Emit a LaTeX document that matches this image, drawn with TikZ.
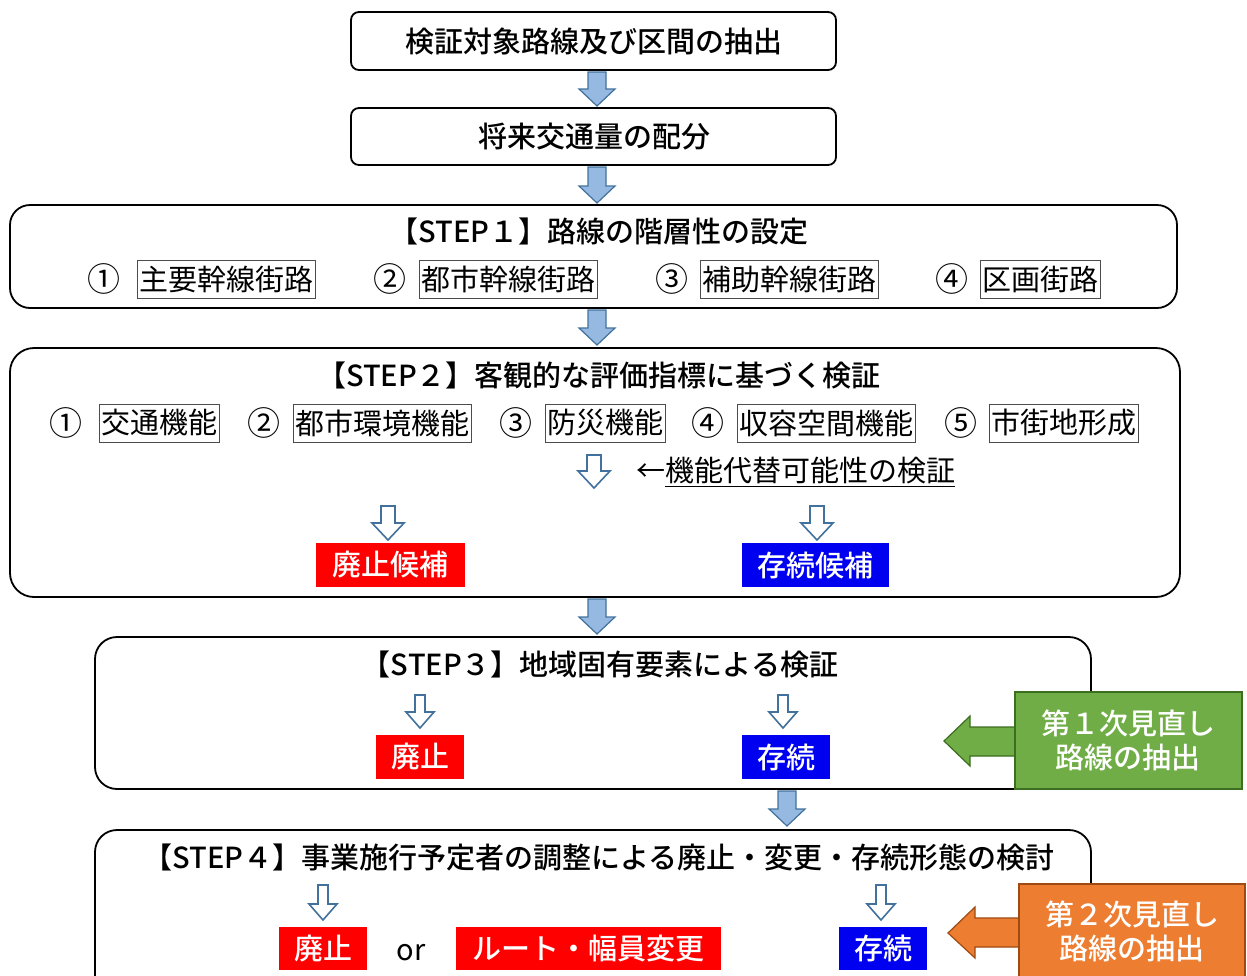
\documentclass[tikz,border=0pt]{standalone}
\usepackage{fontspec}
\setmainfont{Noto Sans CJK JP}[BoldFont={Noto Sans CJK JP Medium}]
\usetikzlibrary{calc}
\definecolor{arrfill}{HTML}{95B9E1}
\definecolor{arrline}{HTML}{41719C}
\definecolor{grn}{HTML}{70AD47}
\definecolor{grnline}{HTML}{3C6E1F}
\definecolor{org}{HTML}{ED7D31}
\definecolor{orgline}{HTML}{9E4A12}
\definecolor{rd}{HTML}{FF0000}
\definecolor{bl}{HTML}{0000F0}
\newcommand\fatdown[3]{%
  \draw[fatarrow] (#1-9,#2) -- (#1+9,#2) -- (#1+9,#3-17) -- (#1+18,#3-17) -- (#1,#3) -- (#1-18,#3-17) -- (#1-9,#3-17) -- cycle;}
\newcommand\thindown[6]{% x ytop ybot shafthalf headhalf headlen
  \draw[thinarrow] (#1-#4,#2) -- (#1+#4,#2) -- (#1+#4,#3-#6) -- (#1+#5,#3-#6) -- (#1,#3) -- (#1-#5,#3-#6) -- (#1-#4,#3-#6) -- cycle;}
\begin{document}
\begin{tikzpicture}[x=1pt,y=-1pt,
  fatarrow/.style={fill=arrfill,draw=arrline,line width=1.2pt,line join=miter},
  thinarrow/.style={fill=white,draw=arrline,line width=1.6pt,line join=miter},
  bigbox/.style={draw=black,line width=1.8pt,fill=white,rounded corners=#1,inner sep=0pt},
  ttl/.style={font=\fontsize{29}{29}\selectfont\bfseries,inner sep=0pt},
  num/.style={font=\fontsize{33}{33}\selectfont,inner sep=0pt},
  item/.style={draw=black!70,line width=1pt,font=\fontsize{29}{29}\selectfont,inner xsep=2pt,inner ysep=0pt,minimum height=38,fill=white},
  lab/.style={font=\fontsize{29}{29}\selectfont\bfseries,text=white,inner sep=0pt,minimum height=44},
  side/.style={font=\fontsize{29}{34}\selectfont\bfseries,text=white,align=center,inner sep=0pt},
]
\useasboundingbox (0,0) rectangle (1247,975);
% top boxes
\node[bigbox=8,minimum width=485,minimum height=58] (b1) at (593.5,41) {};
\node[ttl] (t1) at (594,41) {検証対象路線及び区間の抽出};
\node[bigbox=8,minimum width=485,minimum height=57] (b2) at (593.5,136.5) {};
\node[ttl] (t2) at (594,137) {将来交通量の配分};
% STEP1
\node[bigbox=20,minimum width=1167,minimum height=103] (s1) at (593.5,256.5) {};
\node[ttl] (s1t) at (599,232) {【STEP１】路線の階層性の設定};
\node[num] (s1n1) at (104,279) {①};
\node[item] (s1i1) at (226.5,279) {主要幹線街路};
\node[num] (s1n2) at (390,279) {②};
\node[item] (s1i2) at (508,279) {都市幹線街路};
\node[num] (s1n3) at (672,279) {③};
\node[item] (s1i3) at (789,279) {補助幹線街路};
\node[num] (s1n4) at (952,279) {④};
\node[item] (s1i4) at (1040,279) {区画街路};
% STEP2
\node[bigbox=24,minimum width=1170,minimum height=249] (s2) at (595,472.5) {};
\node[ttl] (s2t) at (599,375) {【STEP２】客観的な評価指標に基づく検証};
\node[num] (s2n1) at (66,423) {①};
\node[item] (s2i1) at (159.5,423) {交通機能};
\node[num] (s2n2) at (264,423) {②};
\node[item] (s2i2) at (382.5,423) {都市環境機能};
\node[num] (s2n3) at (516,423) {③};
\node[item] (s2i3) at (605,423) {防災機能};
\node[num] (s2n4) at (708,423) {④};
\node[item] (s2i4) at (826.5,423) {収容空間機能};
\node[num] (s2n5) at (961,423) {⑤};
\node[item] (s2i5) at (1064,423) {市街地形成};
\node[inner sep=0pt,font=\fontsize{29}{29}\selectfont,anchor=west] (alt) at (636,472) {←\underline{機能代替可能性の検証}};
\node[lab,fill=rd,minimum width=149] (c1) at (390.5,565) {廃止候補};
\node[lab,fill=bl,minimum width=147] (c2) at (815.5,565) {存続候補};
% STEP3
\node[bigbox=22,minimum width=996,minimum height=152] (s3) at (593,713) {};
\node[ttl] (s3t) at (600,664) {【STEP３】地域固有要素による検証};
\node[lab,fill=rd,minimum width=88] (d1) at (420,757) {廃止};
\node[lab,fill=bl,minimum width=88] (d2) at (786,757) {存続};
% STEP4
\node[bigbox=22,minimum width=996,minimum height=170] (s4) at (593,915) {};
\node[ttl] (s4t) at (599,857) {【STEP４】事業施行予定者の調整による廃止・変更・存続形態の検討};
\node[lab,fill=rd,minimum width=88,minimum height=43] (e1) at (323,948.5) {廃止};
\node[inner sep=0pt,font=\fontsize{29}{29}\selectfont] (or) at (411,953) {or};
\node[lab,fill=rd,minimum width=265,minimum height=43] (e2) at (588.5,948.5) {ルート・幅員変更};
\node[lab,fill=bl,minimum width=88,minimum height=43] (e3) at (883,948.5) {存続};
% fat arrows between stages
\fatdown{597}{72}{106}
\fatdown{597}{167}{203}
\fatdown{597}{310}{345}
\fatdown{597}{599}{634}
\fatdown{787}{791}{826}
% outline arrows
\thindown{594}{455}{488}{7}{16}{17}
\thindown{388}{506}{540}{7}{16}{17}
\thindown{817}{506}{540}{7}{16}{17}
\thindown{420}{695}{728}{5}{14}{16}
\thindown{783}{695}{728}{5}{14}{16}
\thindown{323}{885}{920}{5}{14}{16}
\thindown{881}{885}{920}{5}{14}{16}
% green side box
\draw[fill=grn,draw=grnline,line width=1.2pt,line join=miter]
  (1017,727) -- (970,727) -- (970,716) -- (944,741) -- (970,766) -- (970,756) -- (1017,756);
\node[fill=grn,draw=grnline,line width=1.2pt,minimum width=227,minimum height=97,inner sep=0pt] (g) at (1128.5,740.5) {};
\node[side] (gt) at (1128,740) {第１次見直し\\路線の抽出};
% orange side box
\draw[fill=org,draw=orgline,line width=1.2pt,line join=miter]
  (1021,918) -- (975,918) -- (975,907) -- (948,933) -- (975,958) -- (975,947) -- (1021,947);
\node[fill=org,draw=orgline,line width=1.2pt,minimum width=226,minimum height=110,inner sep=0pt] (o) at (1132,939) {};
\node[side] (ot) at (1132,931) {第２次見直し\\路線の抽出};
\end{tikzpicture}
\end{document}
